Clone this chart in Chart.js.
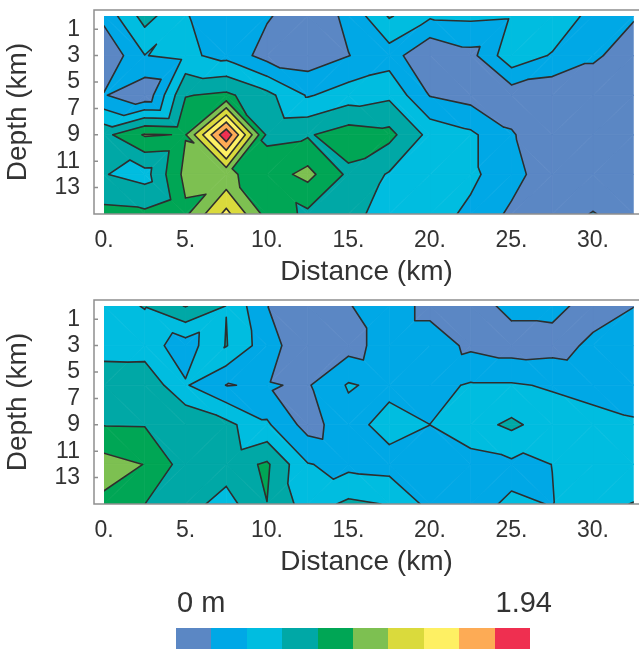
<!DOCTYPE html>
<html>
<head>
<meta charset="utf-8">
<script src="https://cdn.jsdelivr.net/npm/chart.js@4.4.1/dist/chart.umd.min.js"></script>
<style>
  html, body { margin: 0; padding: 0; background: #fff; }
  #wrap { position: relative; width: 639px; height: 649px; overflow: hidden; font-family: "Liberation Sans", Arial, sans-serif; }
  .panel { position: absolute; left: 0; width: 639px; height: 310px; }
  #upper { top: 0; }
  #lower { top: 290px; }
  #cbar { position: absolute; left: 176px; top: 628px; width: 354px; height: 21px; display: flex; }
  #cbar div { flex: 1; }
  .cblabel { position: absolute; top: 588px; font-size: 29px; line-height: 29px; color: #333; }
</style>
</head>
<body>
<div id="wrap">
  <div class="panel" id="upper"><canvas id="upperChart"></canvas></div>
  <div class="panel" id="lower"><canvas id="lowerChart"></canvas></div>
  <div class="cblabel" id="cbMin" style="left:177px"></div>
  <div class="cblabel" id="cbMax" style="right:87px"></div>
  <div id="cbar"></div>
</div>
<script>
const distanceKm = [0, 2.5, 5, 7.5, 10, 12.5, 15, 17.5, 20, 22.5, 25, 27.5, 30, 32.5];
const depthKm = [0, 3, 6, 9, 12, 15];
const xTickValues = [0, 5, 10, 15, 20, 25, 30];
const yTickValues = [1, 3, 5, 7, 9, 11, 13];
const colorMin = 0;
const colorMax = 1.94;
const bandColors = ['#5b87c4', '#00a8e6', '#00bde0', '#00a8a6', '#00a655',
                    '#7dc051', '#dada3c', '#fef063', '#fdab55', '#ef2f50'];

// heights (m), one row per depth, one column per distance
const upperHeights = [
  [0.252, 0.660, 0.398, 0.291, 0.213, 0.078, 0.233, 0.601, 0.417, 0.427, 0.407, 0.563, 0.310, 0.213],
  [0.019, 0.384, 0.427, 0.330, 0.116, 0.078, 0.190, 0.291, 0.010, 0.132, 0.524, 0.369, 0.233, 0.078],
  [0.208, 0.039, 0.766, 0.815, 0.640, 0.369, 0.485, 0.543, 0.184, 0.116, 0.078, 0.039, 0.039, 0.039],
  [0.718, 0.989, 0.960, 1.901, 0.737, 0.757, 0.873, 0.834, 0.524, 0.427, 0.213, 0.039, 0.039, 0.039],
  [0.592, 0.504, 1.028, 1.009, 0.873, 1.028, 0.737, 0.563, 0.485, 0.427, 0.272, 0.058, 0.058, 0.058],
  [0.834, 0.815, 0.931, 1.416, 0.892, 0.737, 0.640, 0.504, 0.466, 0.349, 0.155, 0.097, 0.204, 0.097]
];
const lowerHeights = [
  [0.504, 0.592, 0.786, 0.578, 0.198, 0.078, 0.184, 0.291, 0.136, 0.097, 0.252, 0.252, 0.116, 0.190],
  [0.485, 0.477, 0.291, 0.592, 0.272, 0.058, 0.116, 0.291, 0.291, 0.155, 0.097, 0.116, 0.233, 0.310],
  [0.728, 0.737, 0.407, 0.190, 0.206, 0.175, 0.407, 0.330, 0.330, 0.407, 0.407, 0.369, 0.330, 0.310],
  [0.770, 0.766, 0.757, 0.640, 0.417, 0.116, 0.310, 0.466, 0.389, 0.504, 0.621, 0.485, 0.446, 0.407],
  [1.048, 0.966, 0.685, 0.679, 0.805, 0.398, 0.330, 0.310, 0.310, 0.310, 0.349, 0.389, 0.466, 0.398],
  [0.931, 0.778, 0.660, 0.504, 0.774, 0.485, 0.621, 0.572, 0.330, 0.349, 0.407, 0.384, 0.504, 0.592]
];
// cells [column, row] whose split diagonal is turned the other way
const upperFlips = [[0, 1], [3, 0], [10, 0]];
const lowerFlips = [[2, 1]];

const FONT = '"Liberation Sans", Arial, sans-serif';
const PANEL_H = 310;
const AREA_BOTTOM = 214;
const levels = bandColors.map((c, k) => colorMin + (colorMax - colorMin) * k / bandColors.length);

// keep the part of a polygon above (or below) a level, interpolating linearly
function clipPoly(poly, lvl, above) {
  const out = [];
  for (let k = 0; k < poly.length; k++) {
    const p = poly[k], q = poly[(k + 1) % poly.length];
    const pin = above ? p.v >= lvl : p.v <= lvl;
    const qin = above ? q.v >= lvl : q.v <= lvl;
    if (pin) out.push(p);
    if (pin !== qin) {
      const f = (lvl - p.v) / (q.v - p.v);
      out.push({ px: p.px + f * (q.px - p.px), py: p.py + f * (q.py - p.py), v: lvl });
    }
  }
  return out;
}

const contourPlugin = {
  id: 'contourFill',
  beforeDatasetsDraw(chart, args, opts) {
    const { ctx, scales: { x, y } } = chart;
    const pts = chart.data.datasets[0].data;
    const flips = opts.flips || [];
    const nx = distanceKm.length, ny = depthKm.length;
    const node = (i, j) => {
      const p = pts[j * nx + i];
      return { px: x.getPixelForValue(p.x), py: y.getPixelForValue(p.y), v: p.h };
    };
    // two triangles per grid cell, split away from the cell's highest corner
    const tris = [];
    for (let j = 0; j < ny - 1; j++) {
      for (let i = 0; i < nx - 1; i++) {
        const a = node(i, j), b = node(i + 1, j), c = node(i + 1, j + 1), d = node(i, j + 1);
        const top = Math.max(a.v, b.v, c.v, d.v);
        let splitBD = a.v === top || c.v === top;
        if (flips.some(f => f[0] === i && f[1] === j)) splitBD = !splitBD;
        if (splitBD) tris.push([a, b, d], [b, c, d]);
        else tris.push([a, b, c], [a, c, d]);
      }
    }
    const l = x.getPixelForValue(distanceKm[0]), r = x.getPixelForValue(distanceKm[nx - 1]);
    const t = y.getPixelForValue(depthKm[0]), b = y.getPixelForValue(depthKm[ny - 1]);
    ctx.save();
    ctx.beginPath();
    ctx.rect(l, t, r - l, b - t);
    ctx.clip();
    tris.forEach(tri => {
      bandColors.forEach((col, k) => {
        let poly = tri;
        if (k > 0) poly = clipPoly(poly, levels[k], true);
        if (k < bandColors.length - 1) poly = clipPoly(poly, levels[k + 1], false);
        if (poly.length < 3) return;
        ctx.beginPath();
        poly.forEach((p, n) => n ? ctx.lineTo(p.px, p.py) : ctx.moveTo(p.px, p.py));
        ctx.closePath();
        ctx.fillStyle = col;
        ctx.strokeStyle = col;
        ctx.lineWidth = 0.8;
        ctx.fill();
        ctx.stroke();
      });
    });
    ctx.beginPath();
    tris.forEach(tri => {
      for (let k = 1; k < bandColors.length; k++) {
        const lv = levels[k];
        const cut = [];
        for (let e = 0; e < 3; e++) {
          const p = tri[e], q = tri[(e + 1) % 3];
          if ((p.v >= lv) !== (q.v >= lv)) {
            const f = (lv - p.v) / (q.v - p.v);
            cut.push([p.px + f * (q.px - p.px), p.py + f * (q.py - p.py)]);
          }
        }
        if (cut.length === 2) {
          ctx.moveTo(cut[0][0], cut[0][1]);
          ctx.lineTo(cut[1][0], cut[1][1]);
        }
      }
    });
    ctx.strokeStyle = '#2e2e2e';
    ctx.lineWidth = 1.6;
    ctx.lineJoin = 'round';
    ctx.lineCap = 'round';
    ctx.stroke();
    ctx.restore();
  },
  afterDraw(chart) {
    const { ctx, chartArea: ca, scales: { y } } = chart;
    ctx.save();
    ctx.strokeStyle = '#8f8f8f';
    ctx.lineWidth = 1.5;
    ctx.beginPath();
    ctx.moveTo(chart.width, ca.top);
    ctx.lineTo(ca.left, ca.top);
    ctx.lineTo(ca.left, ca.bottom);
    ctx.lineTo(chart.width, ca.bottom);
    yTickValues.forEach(v => {
      const py = y.getPixelForValue(v);
      ctx.moveTo(ca.left, py);
      ctx.lineTo(ca.left + 4, py);
    });
    ctx.stroke();
    ctx.restore();
  }
};

function makePanel(canvasId, heights, flips) {
  const nodes = [];
  depthKm.forEach((d, j) => {
    distanceKm.forEach((dist, i) => nodes.push({ x: dist, y: d, h: heights[j][i] }));
  });
  return new Chart(document.getElementById(canvasId), {
    type: 'scatter',
    data: { datasets: [{ data: nodes, pointRadius: 0, pointHoverRadius: 0 }] },
    options: {
      responsive: true,
      maintainAspectRatio: false,
      animation: false,
      events: [],
      layout: { padding: { top: 10, left: 0, right: 0, bottom: 0 } },
      plugins: {
        legend: { display: false },
        tooltip: { enabled: false },
        contourFill: { flips: flips }
      },
      scales: {
        x: {
          type: 'linear',
          min: -0.6135,
          max: 32.822,
          afterBuildTicks: s => { s.ticks = xTickValues.map(v => ({ value: v })); },
          afterFit: s => {
            s.height = PANEL_H - AREA_BOTTOM;
            s.paddingLeft = 0;
            s.paddingRight = 0;
          },
          grid: { display: false, drawTicks: false },
          border: { display: false },
          ticks: { padding: 13, color: '#333', font: { family: FONT, size: 23 },
                   maxRotation: 0, autoSkip: false, callback: v => v + '.' },
          title: { display: true, text: 'Distance (km)', color: '#333',
                   font: { family: FONT, size: 28 }, padding: { top: 0, bottom: 21 } }
        },
        y: {
          type: 'linear',
          reverse: true,
          min: -0.4545,
          max: 15,
          afterBuildTicks: s => { s.ticks = yTickValues.map(v => ({ value: v })); },
          afterFit: s => {
            s.width = 94;
            s.paddingTop = 0;
            s.paddingBottom = 0;
          },
          grid: { display: false, drawTicks: false },
          border: { display: false },
          ticks: { padding: 14, color: '#333', font: { family: FONT, size: 23 }, autoSkip: false },
          title: { display: true, text: 'Depth (km)', color: '#333',
                   font: { family: FONT, size: 28 }, padding: { top: 1.5, bottom: 0 } }
        }
      }
    },
    plugins: [contourPlugin]
  });
}

makePanel('upperChart', upperHeights, upperFlips);
makePanel('lowerChart', lowerHeights, lowerFlips);

// colour key
const cbar = document.getElementById('cbar');
bandColors.forEach(c => {
  const box = document.createElement('div');
  box.style.background = c;
  cbar.appendChild(box);
});
document.getElementById('cbMin').textContent = colorMin + ' m';
document.getElementById('cbMax').textContent = colorMax.toFixed(2);
</script>
</body>
</html>
